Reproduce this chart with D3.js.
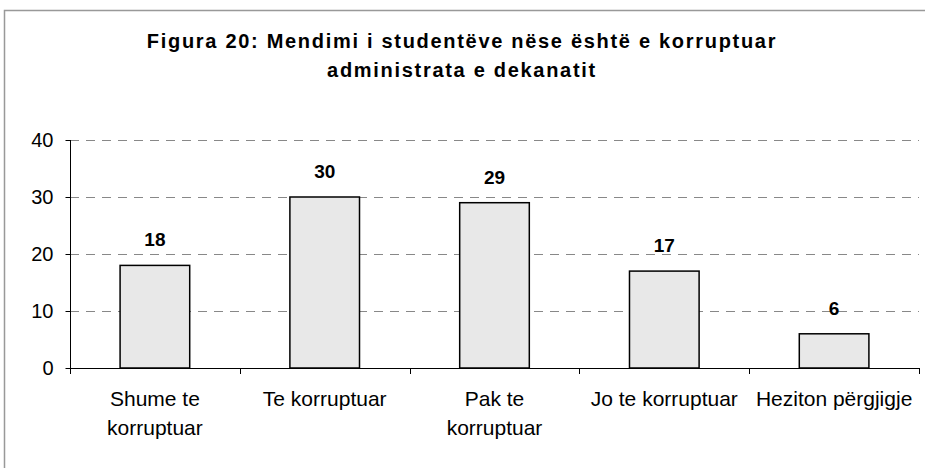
<!DOCTYPE html>
<html>
<head>
<meta charset="utf-8">
<script src="https://cdn.jsdelivr.net/npm/d3@7"></script>
<style>
  body { margin: 0; background: #fff; }
  svg { display: block; font-family: "Liberation Sans", Arial, sans-serif; }
</style>
</head>
<body>
<div id="chart"></div>
<script>
// data
var categories = [["Shume te", "korruptuar"], ["Te korruptuar"], ["Pak te", "korruptuar"], ["Jo te korruptuar"], ["Heziton përgjigje"]];
var values = [18, 30, 29, 17, 6];
var yTicks = [0, 10, 20, 30, 40];
var titleLines = ["Figura 20: Mendimi i studentëve nëse është e korruptuar", "administrata e dekanatit"];

var W = 925, H = 468;

var svg = d3.select("#chart").append("svg")
    .attr("width", W)
    .attr("height", H);

// outer frame
svg.append("rect")
    .attr("x", 4.5).attr("y", 10.5)
    .attr("width", W + 10).attr("height", H + 10)
    .attr("fill", "none")
    .attr("stroke", "#999")
    .attr("stroke-width", 1.5);

// title
svg.append("g").selectAll("text")
    .data(titleLines)
    .enter().append("text")
    .attr("x", 462)
    .attr("y", function(d, i) { return 48 + i * 28.5; })
    .attr("text-anchor", "middle")
    .style("font-size", "20px")
    .style("font-weight", "bold")
    .style("letter-spacing", "1.7px")
    .text(function(d) { return d; });

var x = d3.scaleBand()
    .domain(d3.range(values.length))
    .range([70, 919]);

var y = d3.scaleLinear()
    .domain([0, 40])
    .range([368, 140]);

// dashed gridlines
svg.append("g").selectAll("line")
    .data(yTicks.slice(1))
    .enter().append("line")
    .attr("x1", 70).attr("x2", 919)
    .attr("y1", function(d) { return y(d) + 0.5; })
    .attr("y2", function(d) { return y(d) + 0.5; })
    .attr("stroke", "#888")
    .attr("stroke-dasharray", "9,7");

// bars
var barW = x.bandwidth() * 0.41;
svg.append("g").selectAll("rect")
    .data(values)
    .enter().append("rect")
    .attr("x", function(d, i) { return x(i) + (x.bandwidth() - barW) / 2; })
    .attr("y", function(d) { return y(d); })
    .attr("width", barW)
    .attr("height", function(d) { return y(0) - y(d); })
    .attr("fill", "#e8e8e8")
    .attr("stroke", "#000")
    .attr("stroke-width", 1.5);

// value labels
svg.append("g").selectAll("text")
    .data(values)
    .enter().append("text")
    .attr("x", function(d, i) { return x(i) + x.bandwidth() / 2; })
    .attr("y", function(d) { return y(d) - 19; })
    .attr("text-anchor", "middle")
    .style("font-size", "19px")
    .style("font-weight", "bold")
    .text(function(d) { return d; });

// y axis
var yAxis = d3.axisLeft(y).tickValues(yTicks).tickSize(5).tickPadding(12);
var gy = svg.append("g")
    .attr("transform", "translate(70.5,0)")
    .call(yAxis);
gy.select(".domain").attr("d", "M0," + y(40) + "V" + (y(0) + 0.5));
gy.selectAll("text").style("font-size", "20px").attr("fill", "#000");

// x axis line and ticks at band edges
svg.append("line")
    .attr("x1", 70).attr("x2", 919)
    .attr("y1", y(0) + 0.5).attr("y2", y(0) + 0.5)
    .attr("stroke", "#000");
svg.append("g").selectAll("line")
    .data(d3.range(values.length + 1))
    .enter().append("line")
    .attr("x1", function(d) { return Math.round(70 + d * x.bandwidth()) + 0.5; })
    .attr("x2", function(d) { return Math.round(70 + d * x.bandwidth()) + 0.5; })
    .attr("y1", y(0)).attr("y2", y(0) + 6)
    .attr("stroke", "#000");

// category labels
var cat = svg.append("g").selectAll("text")
    .data(categories)
    .enter().append("text")
    .attr("text-anchor", "middle")
    .style("font-size", "21px")
    .attr("transform", function(d, i) { return "translate(" + (x(i) + x.bandwidth() / 2) + ",406)"; });
cat.selectAll("tspan")
    .data(function(d) { return d; })
    .enter().append("tspan")
    .attr("x", 0)
    .attr("y", function(d, i) { return i * 29; })
    .text(function(d) { return d; });
</script>
</body>
</html>
